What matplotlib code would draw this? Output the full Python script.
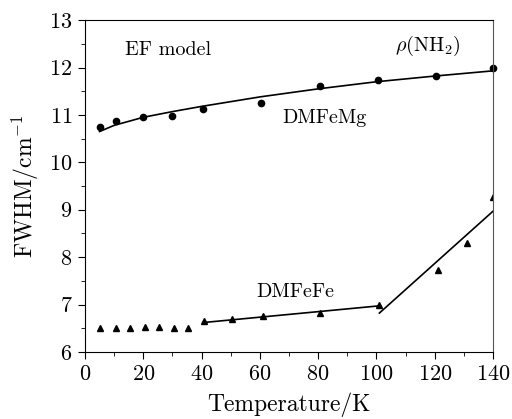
import numpy as np
import matplotlib
matplotlib.use('Agg')
import matplotlib.pyplot as plt
from matplotlib.ticker import MultipleLocator

plt.rcParams['font.family'] = 'cmr10'
plt.rcParams['mathtext.fontset'] = 'cm'
plt.rcParams['axes.formatter.use_mathtext'] = True

# DMFeMg data points (circles) and fit curve
mg_t = [5, 10.5, 20, 30, 40.5, 60.5, 80.5, 100.5, 120.5, 140]
mg_w = [10.75, 10.87, 10.96, 10.97, 11.12, 11.26, 11.6, 11.74, 11.83, 12.0]
mg_fit_t = [5, 10, 20, 30, 40, 60, 80, 100, 120, 140]
mg_fit_w = [10.65, 10.78, 10.95, 11.07, 11.18, 11.38, 11.55, 11.70, 11.82, 11.93]

# DMFeFe data points (triangles) and two linear fits
fe_t = [5, 10.5, 15.5, 20.5, 25.5, 30.5, 35.5, 41, 50.5, 61, 80.5, 101, 121, 131, 140]
fe_w = [6.5, 6.5, 6.51, 6.52, 6.52, 6.51, 6.5, 6.65, 6.7, 6.75, 6.83, 7.0, 7.72, 8.3, 9.27]
fe_fit1_t = [40.5, 100.5]
fe_fit1_w = [6.62, 6.97]
fe_fit2_t = [101, 140]
fe_fit2_w = [6.82, 8.97]

fig = plt.figure(figsize=(5.12, 4.19), dpi=100)
ax = fig.add_axes([0.166, 0.16, 0.797, 0.792])

ax.plot(mg_fit_t, mg_fit_w, color='black', lw=1.2)
ax.plot(mg_t, mg_w, 'o', color='black', ms=4.5, clip_on=False)
ax.plot(fe_fit1_t, fe_fit1_w, color='black', lw=1.2)
ax.plot(fe_fit2_t, fe_fit2_w, color='black', lw=1.2)
ax.plot(fe_t, fe_w, '^', color='black', ms=5, clip_on=True)

ax.set_xlim(0, 140)
ax.set_ylim(6, 13)
ax.xaxis.set_major_locator(MultipleLocator(20))
ax.xaxis.set_minor_locator(MultipleLocator(10))
ax.yaxis.set_major_locator(MultipleLocator(1))
ax.yaxis.set_minor_locator(MultipleLocator(0.5))
ax.tick_params(which='both', direction='out', top=False, right=False, labelsize=16)
ax.tick_params(which='major', length=5, pad=4)
ax.tick_params(which='minor', length=3)
ax.spines['right'].set_color('#555555')

ax.set_xlabel('Temperature/K', fontsize=17, labelpad=6)
ax.set_ylabel(r'FWHM/cm$^{-1}$', fontsize=17, labelpad=6)

ax.text(13.7, 12.37, 'EF model', fontsize=14.5, va='center', ha='left')
ax.text(129, 12.45, r'$\rho(\mathrm{NH_2})$', fontsize=14.5, va='center', ha='right')
ax.text(82, 10.93, 'DMFeMg', fontsize=14.5, va='center', ha='center')
ax.text(72, 7.26, 'DMFeFe', fontsize=14.5, va='center', ha='center')

fig.savefig('out.png', dpi=100)
